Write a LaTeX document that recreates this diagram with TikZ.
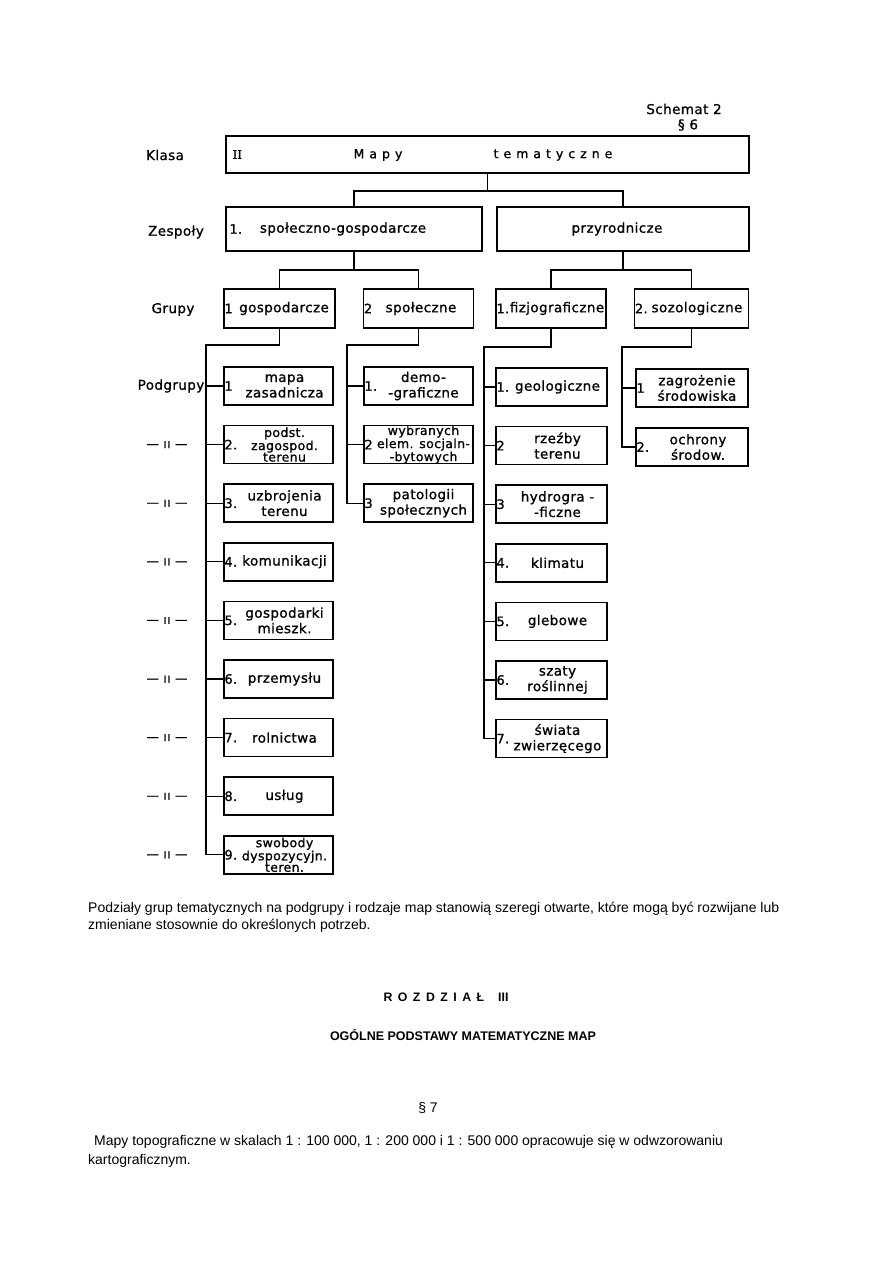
\documentclass[tikz,border=0pt]{standalone}
\usepackage{fontspec}
\setmainfont{Liberation Sans}
\newfontfamily\schemfont{DejaVu Sans}[LetterSpace=3,FakeBold=1]
\newfontfamily\widefont{DejaVu Sans}[LetterSpace=40,FakeBold=1]
\newfontfamily\romanfont{DejaVu Serif}[FakeBold=1]
\newcommand{\gap}{\hspace{5.5pt}}
\begin{document}
\begin{tikzpicture}[x=1pt,y=-1pt,
  box/.style={draw,line width=1.5pt,inner sep=0pt},
  pbox/.style={box,minimum height=38},
  txt/.style={inner sep=0pt,align=center,font={\schemfont\fontsize{13.5}{15.5}\selectfont}},
  ttxt/.style={txt,font={\schemfont\fontsize{12.5}{11.5}\selectfont}},
  num/.style={anchor=west,inner sep=1pt,font={\schemfont\fontsize{13}{15}\selectfont}},
  lab/.style={font={\schemfont\fontsize{13.5}{15}\selectfont}},
  link/.style={line width=1.2pt},
  body/.style={inner sep=0pt,anchor=base west,font={\fontsize{14}{17}\selectfont}}]
\useasboundingbox (0,0) rectangle (893,1263);

% naglowek
\node[lab] (schem) at (684,109) {Schemat 2};
\node[lab] (par6) at (688,125) {§ 6};

% etykiety poziomow
\node[lab] (lklasa) at (165,155) {Klasa};
\node[lab] (lzesp) at (176,232) {Zespoły};
\node[lab] (lgrup) at (173,309.5) {Grupy};
\node[lab] (lpodg) at (171,386) {Podgrupy};
\foreach \i in {2,...,9}
  \node[lab,font={\schemfont\fontsize{12.5}{15}\selectfont}] (ldit\i) at (167,{386+(\i-1)*58.6}) {— ıı —};

% klasa
\node[box,minimum width=523,minimum height=37] (klasa) at (487.5,154.5) {};
\node[anchor=west,font={\romanfont\fontsize{12}{14}\selectfont}] (klnum) at (229,154.5) {II};
\node[font={\widefont\fontsize{12.5}{14}\selectfont}] (klmapy) at (378,155) {Mapy};
\node[font={\widefont\fontsize{12.5}{14}\selectfont}] (kltem) at (553,155) {tematyczne};

% zespoly
\node[box,minimum width=256,minimum height=44] (zsg) at (354,229) {};
\node[txt] (zsgt) at (343,229) {społeczno-gospodarcze};
\node[num,inner sep=4pt] (zsgn) at (zsg.west) {1.};
\node[box,minimum width=252,minimum height=44] (zprz) at (623,229) {};
\node[txt] (zprzt) at (617,229) {przyrodnicze};

\coordinate (kj) at (487.5,191);
\draw[link] (klasa.south) -- (kj);
\draw[link] (zsg.north) |- (kj) -| (zprz.north);

% grupy
\node[box,minimum width=111,minimum height=39] (ggosp) at (279.5,308.5) {};
\node[txt] (ggospt) at (284,308.5) {gospodarcze};
\node[num] (ggospn) at (ggosp.west) {1};
\node[box,minimum width=110,minimum height=39] (gspol) at (418.5,308.5) {};
\node[txt] (gspolt) at (421,308.5) {społeczne};
\node[num] (gspoln) at (gspol.west) {2};
\node[box,minimum width=110,minimum height=39] (gfiz) at (551,308.5) {};
\node[txt] (gfizt) at (557,308.5) {fizjograficzne};
\node[num] (gfizn) at (gfiz.west) {1.};
\node[box,minimum width=114,minimum height=39] (gsoz) at (691.5,308.5) {};
\node[txt] (gsozt) at (697,308.5) {sozologiczne};
\node[num] (gsozn) at (gsoz.west) {2.};

\coordinate (zj1) at (354,270);
\coordinate (zj2) at (623,270);
\draw[link] (zsg.south) -- (zj1);
\draw[link] (ggosp.north) |- (zj1) -| (gspol.north);
\draw[link] (zprz.south) -- (zj2);
\draw[link] (gfiz.north) |- (zj2) -| (gsoz.north);

% podgrupy gospodarcze
\foreach \i/\n/\s/\t in {1/1/txt/{mapa\\zasadnicza}, 2/2./ttxt/{podst.\\zagospod.\\terenu},
    3/3./txt/{uzbrojenia\\terenu}, 4/4./txt/{komunikacji}, 5/5./txt/{gospodarki\\mieszk.},
    6/6./txt/{przemysłu}, 7/7./txt/{rolnictwa}, 8/8./txt/{usług},
    9/9./ttxt/{swobody\\dyspozycyjn.\\teren.}} {
  \node[pbox,minimum width=109] (pg\i) at (278.5,{386+(\i-1)*58.6}) {};
  \node[\s] (pgt\i) at ([xshift=6]pg\i.center) {\t};
  \node[num] (pgn\i) at (pg\i.west) {\n};
}
\coordinate (busg) at (206,345);
\draw[link] (ggosp.south) |- (busg) |- (pg9.west);
\foreach \i in {1,...,8}
  \draw[link] (busg |- pg\i.west) -- (pg\i.west);

% podgrupy spoleczne
\foreach \i/\n/\s/\t in {1/1./txt/{demo-\\-graficzne}, 2/2/ttxt/{wybranych\\elem. socjaln-\\-bytowych},
    3/3/txt/{patologii\\społecznych}} {
  \node[pbox,minimum width=109] (ps\i) at (418.5,{386+(\i-1)*58.6}) {};
  \node[\s] (pst\i) at ([xshift=5]ps\i.center) {\t};
  \node[num] (psn\i) at (ps\i.west) {\n};
}
\coordinate (buss) at (347,345);
\draw[link] (gspol.south) |- (buss) |- (ps3.west);
\foreach \i in {1,2}
  \draw[link] (buss |- ps\i.west) -- (ps\i.west);

% podgrupy fizjograficzne
\foreach \i/\n/\t in {1/1./{geologiczne}, 2/2/{rzeźby\\terenu}, 3/3/{hydrogra -\\-ficzne},
    4/4./{klimatu}, 5/5./{glebowe}, 6/6./{szaty\\roślinnej}, 7/7./{świata\\zwierzęcego}} {
  \node[pbox,minimum width=111] (pf\i) at (551.5,{387+(\i-1)*58.6}) {};
  \node[txt] (pft\i) at ([xshift=6]pf\i.center) {\t};
  \node[num] (pfn\i) at (pf\i.west) {\n};
}
\coordinate (busf) at (484,347);
\draw[link] (gfiz.south) |- (busf) |- (pf7.west);
\foreach \i in {1,...,6}
  \draw[link] (busf |- pf\i.west) -- (pf\i.west);

% podgrupy sozologiczne
\node[pbox,minimum width=112] (pz1) at (692,388) {};
\node[txt] (pzt1) at ([xshift=5]pz1.center) {zagrożenie\\środowiska};
\node[num] (pzn1) at (pz1.west) {1};
\node[pbox,minimum width=112] (pz2) at (692,447) {};
\node[txt] (pzt2) at ([xshift=6]pz2.center) {ochrony\\środow.};
\node[num] (pzn2) at (pz2.west) {2.};
\coordinate (busz) at (622,347);
\draw[link] (gsoz.south) |- (busz) |- (pz2.west);
\draw[link] (busz |- pz1.west) -- (pz1.west);

% tekst pod schematem
\node[body] (txt1) at (88,912) {Podziały grup tematycznych na podgrupy i rodzaje map stanowią szeregi otwarte, które mogą być rozwijane lub};
\node[body] (txt2) at (88,929) {zmieniane stosownie do określonych potrzeb.};
\node[body,anchor=base,font={\bfseries\fontsize{12.3}{16}\selectfont}] (rozdz) at (446,1001)
  {R\gap O\gap Z\gap D\gap Z\gap I\gap A\gap Ł\hspace{14pt}III};
\node[body,anchor=base,font={\bfseries\fontsize{12.5}{16}\selectfont}] (tytul) at (463,1040)
  {OGÓLNE PODSTAWY MATEMATYCZNE MAP};
\node[body,anchor=base] (par7) at (428,1112) {§ 7};
\node[body] (txt3) at (94,1145) {Mapy topograficzne w skalach 1 : 100 000, 1 : 200 000 i 1 : 500 000 opracowuje się w odwzorowaniu};
\node[body] (txt4) at (88,1164) {kartograficznym.};
\end{tikzpicture}
\end{document}
